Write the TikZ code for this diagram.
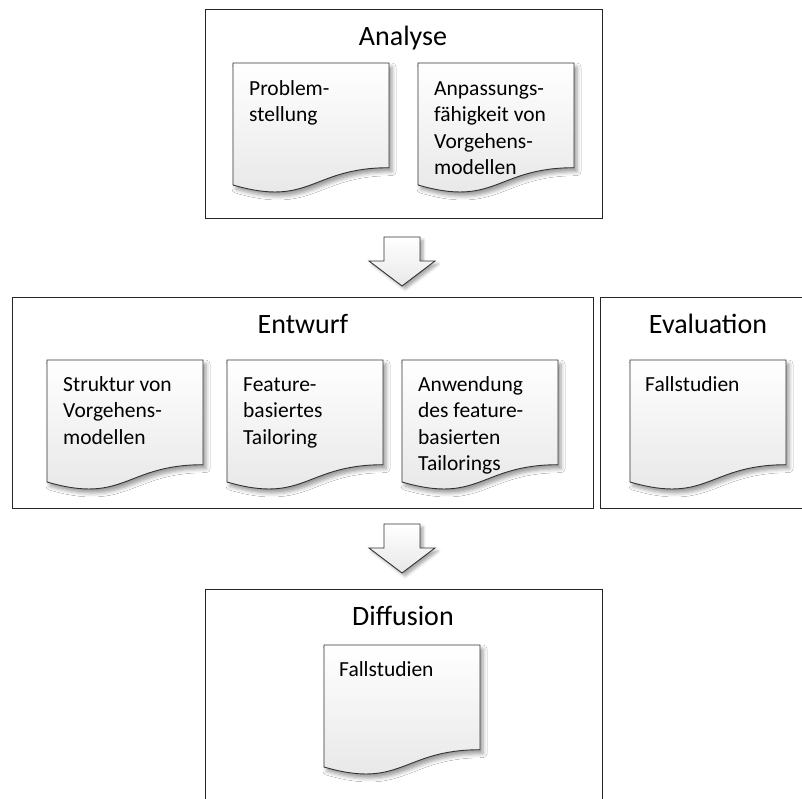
\documentclass[tikz,border=0pt]{standalone}
\usepackage{fontspec}
\setmainfont{Carlito}
\usetikzlibrary{shadows.blur}

% left-aligned multi-line label whose baseline is the first line
\newcommand\doctext[1]{\begin{tabular}[t]{@{}l@{}}#1\end{tabular}}

\tikzset{
  container/.style={draw=black!85, line width=1.2pt, fill=white, inner sep=0pt,
    anchor=north west},
  boxtitle/.style={font=\fontsize{28}{34}\selectfont, anchor=base, inner sep=0pt},
  doclabel/.style={font=\fontsize{21.5}{26.5}\selectfont, anchor=base west, inner sep=0pt},
  paper/.style={draw=black!80, line width=0.9pt, top color=white, bottom color=black!10,
    blur shadow={shadow xshift=3pt, shadow yshift=-4pt, shadow blur radius=4pt,
      shadow opacity=40}},
  blockarrow/.style={draw=black!80, line width=0.9pt, top color=white, bottom color=black!9,
    blur shadow={shadow xshift=3pt, shadow yshift=-3pt, shadow blur radius=3pt,
      shadow opacity=35}},
}

% document sheet with a wavy lower edge, top-left corner at #1
\newcommand\docsheet[1]{%
  \begin{scope}[shift={#1}]
    \path[paper] (0,0) -- (156,0) -- (156,104.7)
      .. controls (78,104.7) and (78,144.7) .. (0,122) -- cycle;
  \end{scope}}

% downward block arrow, shaft top centre at #1
\newcommand\phasearrow[1]{%
  \begin{scope}[shift={#1}]
    \path[blockarrow] (-18,0) -- (18,0) -- (18,24) -- (33,24) -- (0,49)
      -- (-33,24) -- (-18,24) -- cycle;
  \end{scope}}

\begin{document}
\begin{tikzpicture}[x=1pt, y=-1pt]
  \useasboundingbox (0,0) rectangle (802,798);
  \clip (0,0) rectangle (802,798);

  % phase frames
  \node[container, minimum width=397pt, minimum height=209pt] (analyse) at (205,9) {};
  \node[container, minimum width=581pt, minimum height=211pt] (entwurf) at (12,297) {};
  \node[container, minimum width=230pt, minimum height=211pt] (evaluation) at (600,297) {};
  \node[container, minimum width=397pt, minimum height=240pt] (diffusion) at (205,589) {};

  % phase titles
  \node[boxtitle] (tanalyse) at (403,45) {Analyse};
  \node[boxtitle] (tentwurf) at (303,333) {Entwurf};
  \node[boxtitle] (tevaluation) at (708,333) {Evaluation};
  \node[boxtitle] (tdiffusion) at (403,625) {Diffusion};

  % Analyse
  \docsheet{(233,63)}
  \docsheet{(418,63)}
  \node[doclabel] (problem) at (249,95) {\doctext{Problem-\\stellung}};
  \node[doclabel] (anpassung) at (434,95) {\doctext{Anpassungs-\\fähigkeit von\\Vorgehens-\\modellen}};

  % Entwurf
  \docsheet{(47,360)}
  \docsheet{(227,360)}
  \docsheet{(402,360)}
  \node[doclabel] (struktur) at (63,391) {\doctext{Struktur von\\Vorgehens-\\modellen}};
  \node[doclabel] (feature) at (243,391) {\doctext{Feature-\\basiertes\\Tailoring}};
  \node[doclabel] (anwendung) at (418,391) {\doctext{Anwendung\\des feature-\\basierten\\Tailorings}};

  % Evaluation
  \docsheet{(630,360)}
  \node[doclabel] (fallevaluation) at (645,391) {\doctext{Fallstudien}};

  % Diffusion
  \docsheet{(324,645)}
  \node[doclabel] (falldiffusion) at (339,676) {\doctext{Fallstudien}};

  % transitions between phases
  \phasearrow{(402,237)}
  \phasearrow{(402,524)}
\end{tikzpicture}
\end{document}
